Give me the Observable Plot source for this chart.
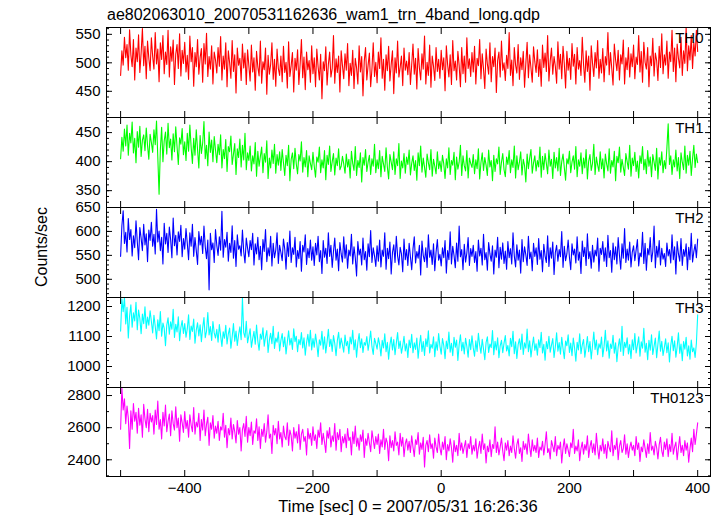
<!DOCTYPE html>
<html><head><meta charset="utf-8">
<script src="https://cdn.jsdelivr.net/npm/d3@7"></script>
<script src="https://cdn.jsdelivr.net/npm/@observablehq/plot@0.6"></script>
<style>
body{margin:0;background:#fff;}
#chart{position:relative;width:723px;height:516px;font-family:"Liberation Sans",Arial,sans-serif;}
#chart svg{position:absolute;left:0;overflow:visible;}
</style></head><body><div id="chart"></div>
<script>
const title = "ae802063010_20070531162636_wam1_trn_4band_long.qdp";
const xLabel = "Time [sec] 0 = 2007/05/31 16:26:36";
const yLabel = "Counts/sec";
const bands = ["TH0","TH1","TH2","TH3","TH0123"];
const colors = ["#ff0000","#00ff00","#0000ff","#00ffff","#ff00ff"];
const t0 = -500, dt = 2;

const th0 = [
478,521,496,545,509,532,487,558,514,493,541,470,526,502,549,483,517,560,495,529,472,538,508,486,544,
511,489,553,498,524,467,535,506,548,481,519,497,557,475,528,503,540,462,515,532,490,551,477,522,499,
536,484,513,471,547,502,527,459,518,493,541,480,509,525,466,534,498,552,476,511,489,530,463,519,505,
482,527,494,546,470,512,489,535,458,521,500,473,539,485,514,447,526,496,508,469,533,491,517,462,523,
495,468,531,484,509,452,520,493,477,538,464,502,488,526,445,513,480,497,535,471,506,459,524,490,478,
512,467,529,483,501,456,537,476,495,518,449,508,487,523,462,498,541,474,510,453,519,488,504,466,530,
481,509,458,524,493,470,515,437,502,486,528,461,497,519,475,490,548,464,507,483,512,449,521,495,472,
516,487,534,460,499,478,522,455,508,491,463,530,484,511,442,503,527,470,496,517,458,489,535,476,501,
465,519,490,544,473,506,452,514,486,529,468,497,521,446,509,482,538,475,492,512,460,526,487,503,479,
518,462,497,533,480,508,454,525,491,470,516,489,547,463,501,478,531,457,512,494,469,527,485,506,473,
522,488,509,451,530,497,475,514,462,539,486,503,470,520,495,458,527,481,512,466,544,490,507,476,518,
484,529,463,508,495,541,472,516,489,455,524,498,480,535,467,511,493,526,448,504,519,475,538,487,500,
469,513,490,553,478,505,460,527,496,482,532,471,509,488,520,457,499,536,474,514,491,466,528,502,483,
523,476,506,459,531,492,517,485,548,468,503,526,480,511,494,464,537,489,515,472,529,498,456,520,487,
508,471,534,494,515,463,527,489,504,478,545,497,466,521,485,512,452,530,499,476,518,491,539,473,506,
482,525,467,511,496,553,479,518,490,461,533,505,486,522,470,514,498,540,463,509,488,527,475,516,493,
531,472,510,497,548,484,520,466,536,501,489,527,458,512,495,543,477,517,504,469,529,492,551,481,514,
496,538,473,519,502,557,485,526,467,533,508,491,545,478,521,499,562,486,530,505,548,490,535,512,557,
520];

const th1 = [
405,442,418,456,427,463,411,449,432,468,415,440,398,452,425,461,409,437,446,419,458,428,404,447,433,
416,455,429,470,408,344,421,459,400,436,451,413,466,424,439,403,448,417,460,426,395,441,430,457,412,
434,402,449,418,463,425,397,440,411,455,421,389,445,414,432,469,405,428,393,451,416,437,400,443,420,
398,430,412,446,389,421,405,438,383,426,417,444,395,413,431,378,422,407,439,391,428,403,449,386,415,
402,427,384,410,396,433,375,418,392,409,425,381,414,399,436,371,406,389,420,397,430,380,412,394,417,
385,421,398,376,411,393,428,367,404,415,388,423,396,379,412,401,434,382,407,391,419,374,410,397,386,
416,392,373,408,399,425,381,403,389,419,369,411,395,427,383,400,414,377,406,393,422,386,392,409,396,
380,413,391,404,372,418,397,385,426,376,402,390,415,365,407,394,421,383,399,411,378,405,392,430,381,
403,388,419,374,409,396,383,424,391,370,412,399,386,417,378,405,393,431,371,401,389,414,380,408,395,
420,377,397,410,385,402,368,415,393,427,382,406,390,373,413,398,386,421,375,404,392,379,417,388,401,
383,411,396,371,405,389,424,378,402,394,416,369,408,387,399,428,376,410,393,384,419,372,406,397,390,
412,379,403,388,422,370,398,415,385,407,394,376,420,391,402,367,411,383,405,396,425,378,399,414,386,
374,408,395,419,381,403,390,427,372,410,386,399,417,377,404,393,365,413,388,406,421,380,398,410,384,
402,391,425,373,409,386,414,397,379,420,392,404,371,416,389,407,384,423,376,400,413,390,368,405,396,
418,381,399,410,387,426,374,403,392,415,379,406,389,421,370,401,412,385,397,430,378,408,394,383,417,
388,405,372,413,396,384,422,380,402,391,418,367,409,398,425,382,404,390,376,414,400,387,428,375,406,
393,416,383,401,372,410,397,426,386,404,379,419,392,408,374,412,399,385,423,370,407,394,417,381,402,
388,424,465,395,410,378,403,391,420,384,407,371,415,399,386,427,380,411,394,418,376,405,428,390,413,
398];

const th2 = [
548,612,643,575,598,557,627,583,604,549,591,566,622,579,541,608,586,560,615,572,595,537,603,581,619,
569,594,553,646,578,601,560,588,532,617,574,596,556,609,583,545,628,570,592,551,599,579,613,547,585,
563,606,575,541,597,569,615,548,587,560,531,600,572,590,554,611,568,543,582,478,596,562,576,535,604,
571,550,589,561,642,546,583,567,598,538,575,556,612,544,581,527,593,563,570,549,603,558,534,586,565,
547,581,562,596,530,574,553,588,541,569,520,583,558,604,537,566,549,590,528,575,545,561,597,533,571,
556,539,584,563,521,577,548,601,535,566,552,588,526,560,543,579,517,571,557,593,531,564,545,582,540,
568,529,575,551,590,537,560,512,581,546,565,533,597,548,571,525,558,586,540,563,518,577,553,536,589,
544,572,523,561,549,594,532,568,545,507,579,551,563,530,586,541,558,519,574,547,602,535,566,549,527,
570,538,582,526,561,548,597,521,565,543,578,511,556,572,535,590,549,530,567,553,516,584,541,562,529,
575,547,520,563,589,534,558,544,571,509,580,550,537,566,525,593,546,561,531,574,518,557,583,540,552,
528,566,545,581,513,560,541,599,532,569,550,524,576,538,611,547,562,520,573,536,555,587,529,564,548,
571,535,558,517,582,549,565,530,594,541,556,519,577,553,538,570,511,561,546,588,524,567,542,576,533,
559,521,579,545,564,532,597,549,526,572,540,561,513,583,537,568,551,529,590,543,557,518,575,548,566,
531,585,542,560,516,573,549,535,591,527,566,544,578,510,556,571,538,562,547,600,525,569,539,553,582,
546,520,574,551,563,534,589,540,557,512,580,548,567,529,595,543,558,523,571,536,561,549,586,517,565,
552,579,538,566,527,592,545,560,515,576,541,568,532,587,550,521,574,544,606,535,563,540,578,526,557,
570,539,561,583,528,555,547,598,533,575,519,564,551,587,537,558,611,524,569,546,581,530,565,542,554,
527,576,549,562,534,593,541,568,511,579,553,538,585,529,562,548,574,520,567,541,596,536,558,573,545,
584];

const th3 = [
1118,1225,1183,1231,1142,1197,1095,1168,1206,1131,1179,1152,1214,1123,1188,1160,1109,1175,1143,1199,1127,1165,1138,1186,1150,
1112,1171,1134,1092,1156,1119,1183,1101,1145,1127,1069,1138,1162,1108,1149,1124,1191,1097,1141,1115,1166,1086,1130,1153,1110,
1143,1098,1126,1172,1090,1135,1117,1158,1078,1121,1146,1102,1139,1083,1129,1163,1096,1118,1180,1105,1133,1087,1150,1112,1095,
1124,1081,1140,1103,1067,1116,1094,1137,1075,1109,1128,1061,1099,1143,1084,1118,1070,1106,1132,1089,1229,1113,1097,1151,1079,
1102,1126,1064,1093,1117,1074,1138,1085,1054,1108,1091,1129,1068,1099,1120,1047,1088,1111,1076,1134,1060,1095,1081,1115,1052,
1087,1110,1066,1098,1042,1081,1119,1072,1094,1057,1126,1083,1101,1049,1090,1073,1113,1062,1096,1038,1079,1107,1068,1121,1055,
1093,1064,1108,1076,1033,1089,1071,1117,1058,1099,1045,1082,1124,1067,1091,1050,1103,1077,1036,1086,1114,1061,1095,1072,1048,
1105,1069,1084,1043,1098,1075,1121,1056,1089,1031,1080,1110,1063,1092,1047,1080,1071,1100,1054,1083,1118,1066,1040,1094,1077,
1058,1096,1074,1035,1087,1062,1109,1049,1081,1024,1072,1098,1055,1090,1039,1078,1113,1060,1085,1044,1069,1101,1052,1076,1030,
1088,1063,1107,1046,1079,1057,1095,1028,1071,1104,1050,1083,1037,1092,1066,1119,1045,1074,1061,1099,1033,1082,1054,1110,1068,
1041,1093,1070,1026,1085,1059,1115,1048,1077,1036,1097,1064,1088,1020,1073,1106,1053,1081,1042,1094,1067,1031,1090,1056,1102,
1062,1034,1086,1050,1111,1071,1044,1091,1058,1023,1080,1099,1047,1075,1063,1120,1039,1084,1055,1096,1029,1069,1087,1046,1078,
1103,1052,1070,1035,1094,1066,1117,1043,1082,1027,1073,1092,1057,1108,1040,1079,1061,1125,1049,1086,1032,1068,1098,1054,1076,
1038,1089,1063,1114,1045,1074,1021,1083,1059,1101,1048,1071,1093,1030,1066,1112,1051,1080,1041,1097,1060,1026,1085,1069,1106,
1047,1078,1036,1095,1062,1018,1081,1055,1109,1043,1072,1090,1031,1064,1100,1049,1083,1025,1070,1115,1057,1088,1039,1076,1061,
1098,1033,1067,1121,1052,1086,1028,1075,1060,1104,1044,1079,1016,1065,1092,1050,1134,1037,1081,1063,1096,1042,1073,1027,1089,
1056,1110,1045,1071,1099,1034,1082,1061,1127,1048,1077,1023,1087,1054,1106,1040,1068,1095,1029,1074,1118,1051,1084,1037,1063,
1092,1046,1079,1015,1070,1101,1053,1086,1031,1066,1112,1044,1075,1019,1083,1058,1097,1035,1069,1024,1088,1049,1062,1030,1078,
1172];

const th0123 = [
2590,2845,2710,2780,2625,2735,2660,2470,2705,2590,2750,2640,2695,2565,2720,2615,2680,2540,2745,2655,2600,2715,2575,2690,2635,
2675,2560,2710,2620,2765,2590,2650,2530,2695,2610,2740,2575,2640,2685,2550,2705,2625,2585,2730,2600,2660,2515,2680,2630,2570,
2700,2595,2645,2540,2680,2615,2575,2725,2560,2635,2605,2690,2520,2650,2585,2710,2550,2620,2665,2490,2630,2590,2675,2535,2610,
2565,2640,2520,2605,2585,2690,2540,2615,2475,2595,2555,2660,2530,2620,2575,2505,2645,2560,2600,2455,2590,2625,2545,2670,2510,
2600,2550,2635,2495,2580,2565,2655,2520,2605,2470,2590,2545,2625,2510,2575,2680,2535,2560,2440,2615,2555,2595,2500,2640,2530,
2570,2480,2610,2545,2525,2630,2490,2585,2550,2455,2600,2535,2575,2505,2620,2465,2560,2590,2515,2545,2430,2595,2530,2565,2490,
2605,2520,2555,2470,2585,2540,2630,2495,2565,2510,2445,2580,2535,2600,2480,2550,2515,2625,2460,2570,2525,2590,2450,2545,2505,
2560,2475,2595,2520,2540,2430,2575,2500,2610,2485,2535,2460,2555,2515,2585,2415,2530,2490,2565,2505,2450,2580,2525,2470,2545,
2495,2560,2440,2525,2480,2590,2465,2535,2505,2395,2550,2475,2520,2455,2575,2490,2510,2430,2565,2485,2540,2420,2500,2530,2460,
2515,2445,2550,2480,2420,2525,2495,2570,2435,2505,2465,2540,2355,2490,2520,2450,2555,2470,2500,2410,2535,2480,2445,2560,2475,
2430,2510,2465,2545,2400,2495,2455,2530,2475,2385,2520,2450,2490,2425,2565,2460,2505,2440,2480,2520,2415,2500,2470,2545,2435,
2490,2455,2530,2410,2475,2515,2440,2560,2465,2500,2380,2485,2450,2525,2420,2495,2470,2605,2445,2510,2430,2480,2535,2455,2395,
2505,2460,2520,2425,2485,2445,2550,2470,2410,2495,2530,2440,2475,2390,2515,2465,2500,2435,2560,2480,2420,2525,2455,2490,2445,
2535,2415,2480,2460,2515,2430,2495,2575,2445,2470,2405,2520,2485,2450,2545,2425,2490,2465,2510,2380,2475,2530,2440,2500,2460,
2420,2505,2475,2590,2440,2485,2455,2525,2395,2470,2510,2435,2495,2460,2550,2415,2480,2520,2445,2500,2430,2565,2470,2405,2490,
2455,2530,2440,2495,2410,2515,2475,2450,2580,2425,2490,2465,2535,2400,2485,2520,2445,2470,2555,2435,2500,2415,2475,2510,2460,
2490,2425,2545,2465,2505,2390,2480,2450,2525,2470,2415,2500,2440,2570,2460,2485,2430,2515,2475,2405,2495,2540,2455,2420,2510,
2465,2530,2420,2495,2450,2565,2435,2480,2510,2400,2475,2545,2445,2490,2425,2520,2460,2505,2385,2470,2535,2450,2590,2495,2560,
2630];

const series = [th0, th1, th2, th3, th0123];
const yDomains = [[404,562],[321,476],[462,650],[930,1230],[2296,2850]];
const majorTicks = [[450,500,550],[350,400,450],[500,550,600,650],[1000,1100,1200],[2400,2600,2800]];
const minorSteps = [10,10,10,20,100];
const xDomain = [-522, 420];
const xTicks = [-500,-400,-300,-200,-100,0,100,200,300,400];
const xTickLabels = [-400,-200,0,200,400];

const FONT = "Liberation Sans, Arial, Helvetica, sans-serif";
const chart = document.getElementById("chart");
const panelTop = [27,117,207,297,387];
const panelH = [90,90,90,90,89];
const fmtMinus = d => d < 0 ? "\u2212" + (-d) : String(d);
const none = () => "";

series.forEach((vals, i) => {
  const data = vals.map((v, j) => ({t: t0 + j * dt, v}));
  const last = i === series.length - 1;
  const mt = 10, mb = last ? 40 : 10;
  const [lo, hi] = yDomains[i];
  const st = minorSteps[i];
  const minor = d3.range(Math.ceil(lo / st) * st, hi + 1e-9, st);
  const marks = [
    Plot.line(data, {x: "t", y: "v", stroke: colors[i], strokeWidth: 1.1, clip: true}),
    Plot.axisY(minor, {anchor: "left", tickSize: -3, tickFormat: none, label: null}),
    Plot.axisY(minor, {anchor: "right", tickSize: -3, tickFormat: none, label: null}),
    Plot.axisY(majorTicks[i], {anchor: "left", tickSize: -6, tickPadding: 12, tickFormat: d => String(d), label: null, fontSize: 15}),
    Plot.axisY(majorTicks[i], {anchor: "right", tickSize: -6, tickFormat: none, label: null}),
    Plot.axisX(xTicks, {anchor: "top", tickSize: -6, tickFormat: none, label: null}),
    Plot.axisX(xTicks, {anchor: "bottom", tickSize: -6, tickFormat: none, label: null}),
    Plot.frame({stroke: "black", strokeWidth: 1}),
    Plot.text([bands[i]], {frameAnchor: "top-right", dx: -7, dy: 5, fontSize: 15, fill: "black"})
  ];
  if (last) marks.push(Plot.axisX(xTickLabels, {anchor: "bottom", tickSize: 0, tickPadding: 6, tickFormat: fmtMinus, label: null, fontSize: 15}));
  const p = Plot.plot({
    width: 723, height: panelH[i] + mt + mb,
    marginLeft: 106, marginRight: 13, marginTop: mt, marginBottom: mb,
    style: {background: "transparent", fontFamily: FONT, fontSize: "15px", color: "black", overflow: "visible"},
    x: {domain: xDomain}, y: {domain: yDomains[i]},
    marks
  });
  p.style.top = (panelTop[i] - mt) + "px";
  chart.appendChild(p);
});

const ov = d3.create("svg").attr("width", 723).attr("height", 516)
  .style("top", "0px").style("pointer-events", "none")
  .attr("font-family", FONT).attr("fill", "black");
ov.append("text").attr("x", 107).attr("y", 20).attr("font-size", 16).text(title);
ov.append("text").attr("x", 408).attr("y", 512).attr("text-anchor", "middle").attr("font-size", 16.5).text(xLabel);
ov.append("text").attr("transform", "translate(47,247) rotate(-90)").attr("text-anchor", "middle").attr("font-size", 16).text(yLabel);
chart.appendChild(ov.node());
</script></body></html>
